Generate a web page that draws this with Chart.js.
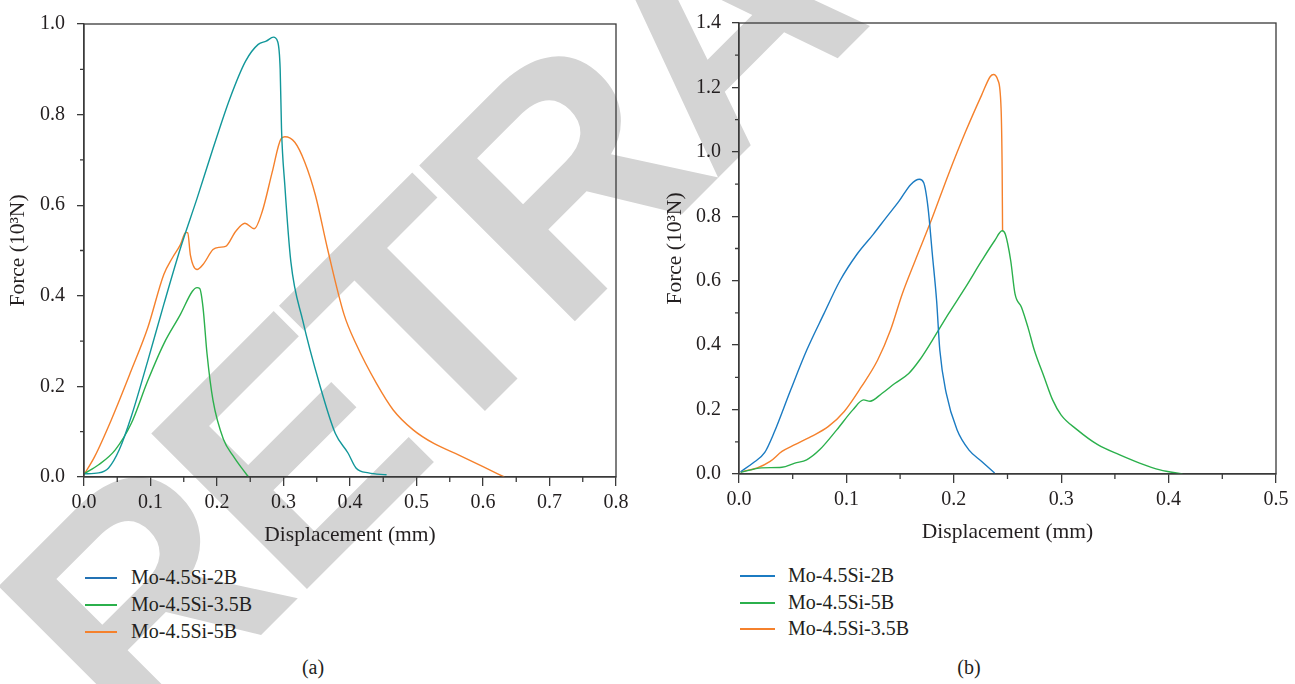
<!DOCTYPE html>
<html>
<head>
<meta charset="utf-8">
<script src="https://cdn.jsdelivr.net/npm/chart.js@4"></script>
<style>
  body { margin: 0; width: 1295px; height: 684px; background: #fff; overflow: hidden; position: relative;
         font-family: "Liberation Serif", "DejaVu Serif", serif; color: #231f20; }
  #watermark { position: absolute; left: 139px; top: 486px; font: bold 320px "Liberation Sans", Arial, sans-serif;
               line-height: 320px; letter-spacing: -15px; color: #d4d4d4; white-space: nowrap;
               transform-origin: 0 271px; transform: rotate(-45deg); z-index: 0; }
  .panel { position: absolute; top: 0; z-index: 1; }
  .legend { position: absolute; z-index: 1; font-size: 20px; }
  .legend .row { position: absolute; white-space: nowrap; }
  .legend .swatch { position: absolute; top: 0; height: 2px; }
  .legend .label { position: absolute; top: -12px; line-height: 24px; }
  .caption { position: absolute; z-index: 1; font-size: 20px; transform: translateX(-50%); top: 656px; }
</style>
</head>
<body>
<div id="watermark">RETRACTED</div>
<canvas id="chartA" class="panel" style="left:0px" width="640" height="552"></canvas>
<canvas id="chartB" class="panel" style="left:650px" width="645" height="549"></canvas>
<div id="legendA" class="legend"></div>
<div id="legendB" class="legend"></div>
<div class="caption" style="left:313px">(a)</div>
<div class="caption" style="left:969px">(b)</div>

<script>
// ---- panel (a) data ----
const dispA_2B = [0, 0.022, 0.037, 0.053, 0.071, 0.096, 0.12, 0.145, 0.17, 0.194, 0.219, 0.243, 0.262, 0.274, 0.285, 0.291, 0.295, 0.297, 0.302, 0.311, 0.329, 0.354, 0.378, 0.397, 0.409, 0.428, 0.455];
const forceA_2B = [0.007, 0.009, 0.02, 0.06, 0.133, 0.257, 0.381, 0.505, 0.615, 0.725, 0.834, 0.918, 0.955, 0.962, 0.971, 0.962, 0.9, 0.769, 0.644, 0.476, 0.345, 0.206, 0.096, 0.053, 0.02, 0.009, 0.005];

const dispA_35B = [0, 0.022, 0.047, 0.071, 0.096, 0.12, 0.145, 0.163, 0.17, 0.174, 0.179, 0.185, 0.194, 0.21, 0.225, 0.237, 0.247];
const forceA_35B = [0.007, 0.027, 0.06, 0.118, 0.213, 0.294, 0.359, 0.41, 0.418, 0.416, 0.374, 0.272, 0.169, 0.082, 0.045, 0.02, 0.001];

const dispA_5B = [0, 0.016, 0.041, 0.071, 0.096, 0.12, 0.133, 0.145, 0.153, 0.156, 0.16, 0.17, 0.179, 0.194, 0.203, 0.213, 0.228, 0.242, 0.256, 0.268, 0.283, 0.296, 0.302, 0.317, 0.332, 0.348, 0.366, 0.391, 0.409, 0.44, 0.465, 0.495, 0.526, 0.563, 0.6, 0.632];
const forceA_5B = [0.005, 0.045, 0.126, 0.235, 0.33, 0.447, 0.484, 0.513, 0.54, 0.539, 0.49, 0.458, 0.469, 0.502, 0.507, 0.509, 0.542, 0.56, 0.548, 0.586, 0.673, 0.746, 0.751, 0.739, 0.695, 0.622, 0.505, 0.359, 0.294, 0.206, 0.148, 0.104, 0.074, 0.049, 0.023, 0.0];

// ---- panel (b) data ----
const dispB_2B = [0.0015, 0.013, 0.024, 0.0325, 0.048, 0.063, 0.079, 0.094, 0.11, 0.125, 0.137, 0.149, 0.16, 0.168, 0.172, 0.176, 0.18, 0.184, 0.187, 0.193, 0.203, 0.214, 0.226, 0.238];
const forceB_2B = [0.007, 0.034, 0.067, 0.127, 0.26, 0.384, 0.497, 0.6, 0.683, 0.744, 0.796, 0.847, 0.899, 0.915, 0.904, 0.827, 0.683, 0.538, 0.384, 0.25, 0.137, 0.075, 0.039, 0.003];

const dispB_5B = [0.0015, 0.021, 0.04, 0.052, 0.063, 0.075, 0.091, 0.106, 0.116, 0.122, 0.133, 0.145, 0.158, 0.168, 0.18, 0.195, 0.211, 0.226, 0.238, 0.245, 0.248, 0.253, 0.257, 0.263, 0.269, 0.275, 0.284, 0.292, 0.3, 0.315, 0.334, 0.354, 0.373, 0.392, 0.413];
const forceB_5B = [0.005, 0.019, 0.021, 0.034, 0.044, 0.075, 0.137, 0.199, 0.23, 0.226, 0.25, 0.281, 0.312, 0.353, 0.415, 0.497, 0.58, 0.662, 0.724, 0.755, 0.744, 0.662, 0.559, 0.518, 0.456, 0.384, 0.302, 0.23, 0.183, 0.137, 0.091, 0.06, 0.034, 0.013, 0.0];

const dispB_35B = [0.0015, 0.017, 0.029, 0.04, 0.052, 0.067, 0.083, 0.098, 0.114, 0.129, 0.141, 0.152, 0.164, 0.18, 0.195, 0.211, 0.226, 0.234, 0.237, 0.241, 0.244, 0.245, 0.2454];
const forceB_35B = [0.007, 0.019, 0.039, 0.07, 0.091, 0.116, 0.147, 0.194, 0.271, 0.353, 0.446, 0.559, 0.662, 0.796, 0.93, 1.063, 1.177, 1.234, 1.24, 1.223, 1.136, 0.95, 0.754];

// ---- labels, colours, ticks ----
const labelsA = ["Mo-4.5Si-2B", "Mo-4.5Si-3.5B", "Mo-4.5Si-5B"];
const labelsB = ["Mo-4.5Si-2B", "Mo-4.5Si-5B", "Mo-4.5Si-3.5B"];
const coloursA = ["#12979a", "#2bb04c", "#f5812c"];
const legendColoursA = ["#2372b4", "#2bb04c", "#f5812c"];
const coloursB = ["#1b7bc2", "#2bb04c", "#f5812c"];

const xMinorA = [0.05, 0.15, 0.25, 0.35, 0.45, 0.55, 0.65, 0.75];
const yMinorA = [0.1, 0.3, 0.5, 0.7, 0.9];
const xMinorB = [0.05, 0.15, 0.25, 0.35, 0.45];
const yMinorB = [0.1, 0.3, 0.5, 0.7, 0.9, 1.1, 1.3];

const axisColour = "#3a3a3a";
const textColour = "#231f20";

Chart.defaults.font.family = '"Liberation Serif", "DejaVu Serif", serif';
Chart.defaults.font.size = 20;
Chart.defaults.color = textColour;
Chart.defaults.animation = false;

function toPoints(xs, ys) {
    return xs.map((x, i) => ({ x: x, y: ys[i] }));
}

// draws the box around the plot and the short minor ticks
const frameAndMinorTicks = {
    id: "frameAndMinorTicks",
    afterDraw(chart, args, opts) {
        const { ctx, chartArea: a, scales } = chart;
        ctx.save();
        ctx.strokeStyle = axisColour;
        ctx.lineWidth = 1.3;
        ctx.strokeRect(a.left, a.top, a.right - a.left, a.bottom - a.top);
        ctx.beginPath();
        opts.xMinor.forEach(v => {
            const px = scales.x.getPixelForValue(v);
            ctx.moveTo(px, a.bottom);
            ctx.lineTo(px, a.bottom + 5);
        });
        opts.yMinor.forEach(v => {
            const py = scales.y.getPixelForValue(v);
            ctx.moveTo(a.left, py);
            ctx.lineTo(a.left - 4, py);
        });
        ctx.stroke();
        ctx.restore();
    }
};

function makeChart(id, cfg) {
    const datasets = cfg.series.map((s, i) => ({
        label: cfg.labels[i],
        data: toPoints(s[0], s[1]),
        borderColor: cfg.colours[i],
        borderWidth: 1.4,
        pointRadius: 0,
        fill: false,
        cubicInterpolationMode: "monotone"
    }));

    return new Chart(document.getElementById(id), {
        type: "line",
        data: { datasets: datasets },
        options: {
            responsive: false,
            layout: { padding: { top: 21, right: cfg.padRight, bottom: 0, left: 0 } },
            plugins: {
                legend: { display: false },
                tooltip: { enabled: false },
                frameAndMinorTicks: { xMinor: cfg.xMinor, yMinor: cfg.yMinor }
            },
            scales: {
                x: {
                    type: "linear",
                    min: 0,
                    max: cfg.xMax,
                    afterFit: s => { s.height = 75; },
                    ticks: { stepSize: 0.1, padding: 5, maxRotation: 0, callback: v => v.toFixed(1) },
                    grid: { drawOnChartArea: false, tickLength: 9, color: axisColour, lineWidth: 1.3 },
                    border: { color: axisColour, width: 1.3 },
                    title: { display: true, text: "Displacement (mm)", font: { size: 21.5 }, padding: { top: 9, bottom: 4 } }
                },
                y: {
                    min: 0,
                    max: cfg.yMax,
                    afterFit: s => { s.width = cfg.yWidth; },
                    ticks: { stepSize: 0.2, padding: cfg.yPad, callback: v => v.toFixed(1) },
                    grid: { drawOnChartArea: false, tickLength: 7, color: axisColour, lineWidth: 1.3 },
                    border: { color: axisColour, width: 1.3 },
                    title: { display: true, text: "Force (10³N)", font: { size: 21.5 }, padding: { top: cfg.yTitlePad, bottom: 0 } }
                }
            }
        },
        plugins: [frameAndMinorTicks]
    });
}

makeChart("chartA", {
    series: [[dispA_2B, forceA_2B], [dispA_35B, forceA_35B], [dispA_5B, forceA_5B]],
    labels: labelsA, colours: coloursA,
    xMax: 0.8, yMax: 1.0, xMinor: xMinorA, yMinor: yMinorA,
    padRight: 24, yWidth: 84, yPad: 12, yTitlePad: 5
});

makeChart("chartB", {
    series: [[dispB_2B, forceB_2B], [dispB_5B, forceB_5B], [dispB_35B, forceB_35B]],
    labels: labelsB, colours: coloursB,
    xMax: 0.5, yMax: 1.4, xMinor: xMinorB, yMinor: yMinorB,
    padRight: 19, yWidth: 89, yPad: 11, yTitlePad: 12
});

// legends below each panel, one entry per row
function buildLegend(id, labels, colours, left, top, rowGap, lineW, textX) {
    const box = document.getElementById(id);
    labels.forEach((lab, i) => {
        const row = document.createElement("div");
        row.className = "row";
        row.style.left = left + "px";
        row.style.top = Math.round(top + i * rowGap) + "px";
        const sw = document.createElement("span");
        sw.className = "swatch";
        sw.style.left = "0px";
        sw.style.width = lineW + "px";
        sw.style.background = colours[i];
        const tx = document.createElement("span");
        tx.className = "label";
        tx.style.left = textX + "px";
        tx.textContent = lab;
        row.appendChild(sw);
        row.appendChild(tx);
        box.appendChild(row);
    });
}

buildLegend("legendA", labelsA, legendColoursA, 85, 577, 27, 32, 46);
buildLegend("legendB", labelsB, coloursB, 740, 575, 26.5, 35, 48);
</script>
</body>
</html>
